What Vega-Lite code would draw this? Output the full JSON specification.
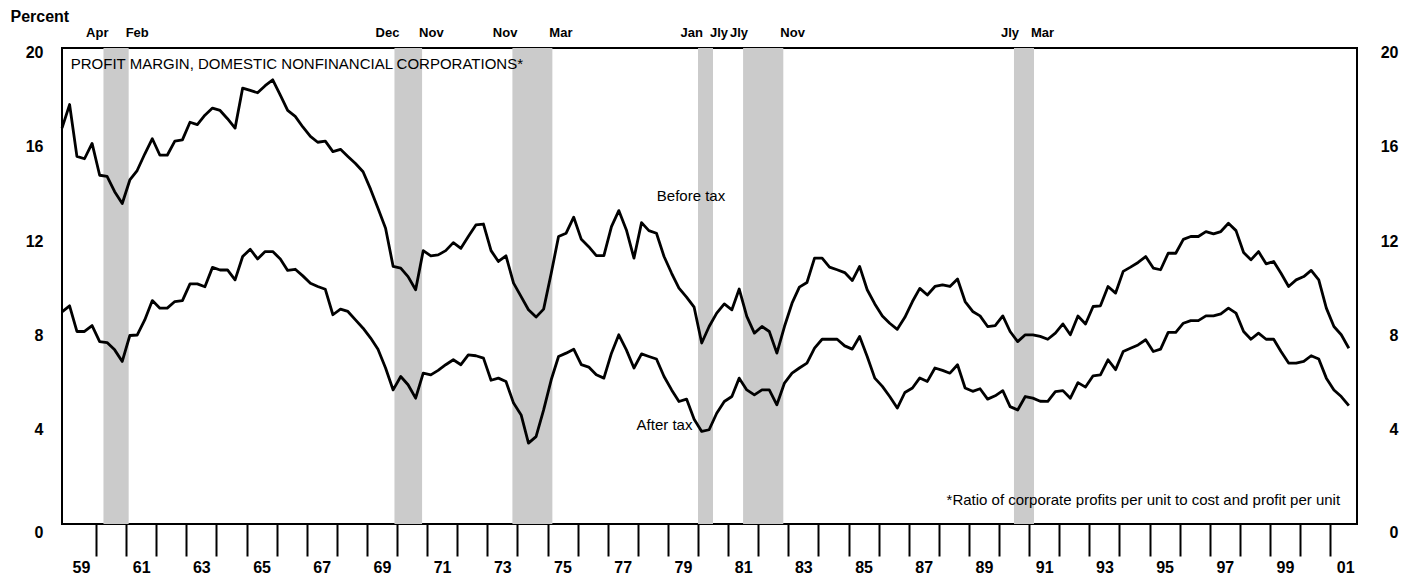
{
  "$schema": "https://vega.github.io/schema/vega-lite/v6.json",
  "width": 1295,
  "height": 476,
  "autosize": {"type": "none"},
  "padding": {"left": 62, "top": 48, "right": 53, "bottom": 57},
  "background": "white",
  "config": {
    "view": {"stroke": "black", "strokeWidth": 2},
    "font": "Liberation Sans",
    "text": {"font": "Liberation Sans", "color": "black"}
  },
  "datasets": {
    "recessions": [
      {"start": "1960-04-01", "end": "1961-02-01", "startLabel": "Apr", "endLabel": "Feb"},
      {"start": "1969-12-01", "end": "1970-11-01", "startLabel": "Dec", "endLabel": "Nov"},
      {"start": "1973-11-01", "end": "1975-03-01", "startLabel": "Nov", "endLabel": "Mar"},
      {"start": "1980-01-01", "end": "1980-07-01", "startLabel": "Jan", "endLabel": "Jly"},
      {"start": "1981-07-01", "end": "1982-11-01", "startLabel": "Jly", "endLabel": "Nov"},
      {"start": "1990-07-01", "end": "1991-03-01", "startLabel": "Jly", "endLabel": "Mar"}
    ],
    "margins": [
      {"q": "1958-11-15", "before": 16.8, "after": 9.0},
      {"q": "1959-02-15", "before": 17.8, "after": 9.26},
      {"q": "1959-05-15", "before": 15.6, "after": 8.17},
      {"q": "1959-08-15", "before": 15.5, "after": 8.17},
      {"q": "1959-11-15", "before": 16.15, "after": 8.42},
      {"q": "1960-02-15", "before": 14.8, "after": 7.74},
      {"q": "1960-05-15", "before": 14.75, "after": 7.7},
      {"q": "1960-08-15", "before": 14.1, "after": 7.39},
      {"q": "1960-11-15", "before": 13.6, "after": 6.9},
      {"q": "1961-02-15", "before": 14.6, "after": 8.0},
      {"q": "1961-05-15", "before": 15.0, "after": 8.02},
      {"q": "1961-08-15", "before": 15.7, "after": 8.66},
      {"q": "1961-11-15", "before": 16.35, "after": 9.48},
      {"q": "1962-02-15", "before": 15.65, "after": 9.16},
      {"q": "1962-05-15", "before": 15.65, "after": 9.16},
      {"q": "1962-08-15", "before": 16.25, "after": 9.44},
      {"q": "1962-11-15", "before": 16.3, "after": 9.48},
      {"q": "1963-02-15", "before": 17.05, "after": 10.19},
      {"q": "1963-05-15", "before": 16.95, "after": 10.19},
      {"q": "1963-08-15", "before": 17.35, "after": 10.07},
      {"q": "1963-11-15", "before": 17.65, "after": 10.89},
      {"q": "1964-02-15", "before": 17.55, "after": 10.78},
      {"q": "1964-05-15", "before": 17.2, "after": 10.78},
      {"q": "1964-08-15", "before": 16.8, "after": 10.36},
      {"q": "1964-11-15", "before": 18.5, "after": 11.35},
      {"q": "1965-02-15", "before": 18.4, "after": 11.66},
      {"q": "1965-05-15", "before": 18.3, "after": 11.25},
      {"q": "1965-08-15", "before": 18.6, "after": 11.56},
      {"q": "1965-11-15", "before": 18.85, "after": 11.56},
      {"q": "1966-02-15", "before": 18.2, "after": 11.25},
      {"q": "1966-05-15", "before": 17.55, "after": 10.76},
      {"q": "1966-08-15", "before": 17.3, "after": 10.81},
      {"q": "1966-11-15", "before": 16.85, "after": 10.53},
      {"q": "1967-02-15", "before": 16.45, "after": 10.22},
      {"q": "1967-05-15", "before": 16.2, "after": 10.08},
      {"q": "1967-08-15", "before": 16.25, "after": 9.96},
      {"q": "1967-11-15", "before": 15.8, "after": 8.88},
      {"q": "1968-02-15", "before": 15.9, "after": 9.12},
      {"q": "1968-05-15", "before": 15.6, "after": 9.02},
      {"q": "1968-08-15", "before": 15.3, "after": 8.66},
      {"q": "1968-11-15", "before": 14.95, "after": 8.31},
      {"q": "1969-02-15", "before": 14.2, "after": 7.89},
      {"q": "1969-05-15", "before": 13.4, "after": 7.42},
      {"q": "1969-08-15", "before": 12.55, "after": 6.62},
      {"q": "1969-11-15", "before": 10.93, "after": 5.69},
      {"q": "1970-02-15", "before": 10.86, "after": 6.26},
      {"q": "1970-05-15", "before": 10.5, "after": 5.91},
      {"q": "1970-08-15", "before": 9.94, "after": 5.34},
      {"q": "1970-11-15", "before": 11.6, "after": 6.4},
      {"q": "1971-02-15", "before": 11.38, "after": 6.33},
      {"q": "1971-05-15", "before": 11.42, "after": 6.52},
      {"q": "1971-08-15", "before": 11.6, "after": 6.76},
      {"q": "1971-11-15", "before": 11.94, "after": 6.97},
      {"q": "1972-02-15", "before": 11.7, "after": 6.76},
      {"q": "1972-05-15", "before": 12.2, "after": 7.18},
      {"q": "1972-08-15", "before": 12.69, "after": 7.14},
      {"q": "1972-11-15", "before": 12.73, "after": 7.04},
      {"q": "1973-02-15", "before": 11.6, "after": 6.1},
      {"q": "1973-05-15", "before": 11.14, "after": 6.19},
      {"q": "1973-08-15", "before": 11.38, "after": 6.05},
      {"q": "1973-11-15", "before": 10.22, "after": 5.13},
      {"q": "1974-02-15", "before": 9.65, "after": 4.63},
      {"q": "1974-05-15", "before": 9.09, "after": 3.43},
      {"q": "1974-08-15", "before": 8.78, "after": 3.71},
      {"q": "1974-11-15", "before": 9.12, "after": 4.84},
      {"q": "1975-02-15", "before": 10.64, "after": 6.12},
      {"q": "1975-05-15", "before": 12.2, "after": 7.11},
      {"q": "1975-08-15", "before": 12.34, "after": 7.25},
      {"q": "1975-11-15", "before": 13.02, "after": 7.42},
      {"q": "1976-02-15", "before": 12.08, "after": 6.76},
      {"q": "1976-05-15", "before": 11.77, "after": 6.66},
      {"q": "1976-08-15", "before": 11.39, "after": 6.33},
      {"q": "1976-11-15", "before": 11.39, "after": 6.19},
      {"q": "1977-02-15", "before": 12.62, "after": 7.25},
      {"q": "1977-05-15", "before": 13.3, "after": 8.03},
      {"q": "1977-08-15", "before": 12.48, "after": 7.39},
      {"q": "1977-11-15", "before": 11.28, "after": 6.62},
      {"q": "1978-02-15", "before": 12.79, "after": 7.22},
      {"q": "1978-05-15", "before": 12.45, "after": 7.11},
      {"q": "1978-08-15", "before": 12.34, "after": 7.0},
      {"q": "1978-11-15", "before": 11.35, "after": 6.26},
      {"q": "1979-02-15", "before": 10.64, "after": 5.69},
      {"q": "1979-05-15", "before": 10.01, "after": 5.2},
      {"q": "1979-08-15", "before": 9.63, "after": 5.3},
      {"q": "1979-11-15", "before": 9.2, "after": 4.45},
      {"q": "1980-02-15", "before": 7.68, "after": 3.93},
      {"q": "1980-05-15", "before": 8.38, "after": 4.0},
      {"q": "1980-08-15", "before": 8.95, "after": 4.7},
      {"q": "1980-11-15", "before": 9.34, "after": 5.2},
      {"q": "1981-02-15", "before": 9.09, "after": 5.41},
      {"q": "1981-05-15", "before": 9.97, "after": 6.19},
      {"q": "1981-08-15", "before": 8.81, "after": 5.69},
      {"q": "1981-11-15", "before": 8.1, "after": 5.48},
      {"q": "1982-02-15", "before": 8.38, "after": 5.69},
      {"q": "1982-05-15", "before": 8.17, "after": 5.69},
      {"q": "1982-08-15", "before": 7.25, "after": 5.06},
      {"q": "1982-11-15", "before": 8.38, "after": 5.98},
      {"q": "1983-02-15", "before": 9.37, "after": 6.4},
      {"q": "1983-05-15", "before": 10.05, "after": 6.62},
      {"q": "1983-08-15", "before": 10.25, "after": 6.83},
      {"q": "1983-11-15", "before": 11.28, "after": 7.46},
      {"q": "1984-02-15", "before": 11.28, "after": 7.84},
      {"q": "1984-05-15", "before": 10.9, "after": 7.84},
      {"q": "1984-08-15", "before": 10.79, "after": 7.84},
      {"q": "1984-11-15", "before": 10.67, "after": 7.56},
      {"q": "1985-02-15", "before": 10.33, "after": 7.42},
      {"q": "1985-05-15", "before": 10.93, "after": 7.96},
      {"q": "1985-08-15", "before": 9.94, "after": 7.11},
      {"q": "1985-11-15", "before": 9.34, "after": 6.19},
      {"q": "1986-02-15", "before": 8.83, "after": 5.84},
      {"q": "1986-05-15", "before": 8.52, "after": 5.41},
      {"q": "1986-08-15", "before": 8.26, "after": 4.92},
      {"q": "1986-11-15", "before": 8.77, "after": 5.58},
      {"q": "1987-02-15", "before": 9.44, "after": 5.77},
      {"q": "1987-05-15", "before": 10.0, "after": 6.2},
      {"q": "1987-08-15", "before": 9.72, "after": 6.05},
      {"q": "1987-11-15", "before": 10.08, "after": 6.62},
      {"q": "1988-02-15", "before": 10.15, "after": 6.52},
      {"q": "1988-05-15", "before": 10.08, "after": 6.4},
      {"q": "1988-08-15", "before": 10.4, "after": 6.76},
      {"q": "1988-11-15", "before": 9.44, "after": 5.77},
      {"q": "1989-02-15", "before": 9.02, "after": 5.63},
      {"q": "1989-05-15", "before": 8.83, "after": 5.74},
      {"q": "1989-08-15", "before": 8.38, "after": 5.3},
      {"q": "1989-11-15", "before": 8.42, "after": 5.44},
      {"q": "1990-02-15", "before": 8.83, "after": 5.66},
      {"q": "1990-05-15", "before": 8.17, "after": 4.98},
      {"q": "1990-08-15", "before": 7.74, "after": 4.84},
      {"q": "1990-11-15", "before": 8.03, "after": 5.41},
      {"q": "1991-02-15", "before": 8.03, "after": 5.34},
      {"q": "1991-05-15", "before": 7.96, "after": 5.21},
      {"q": "1991-08-15", "before": 7.84, "after": 5.2},
      {"q": "1991-11-15", "before": 8.1, "after": 5.62},
      {"q": "1992-02-15", "before": 8.49, "after": 5.66},
      {"q": "1992-05-15", "before": 8.03, "after": 5.34},
      {"q": "1992-08-15", "before": 8.83, "after": 6.0},
      {"q": "1992-11-15", "before": 8.49, "after": 5.81},
      {"q": "1993-02-15", "before": 9.23, "after": 6.29},
      {"q": "1993-05-15", "before": 9.26, "after": 6.33},
      {"q": "1993-08-15", "before": 10.08, "after": 6.97},
      {"q": "1993-11-15", "before": 9.8, "after": 6.55},
      {"q": "1994-02-15", "before": 10.72, "after": 7.32},
      {"q": "1994-05-15", "before": 10.9, "after": 7.46},
      {"q": "1994-08-15", "before": 11.1, "after": 7.6},
      {"q": "1994-11-15", "before": 11.35, "after": 7.82},
      {"q": "1995-02-15", "before": 10.86, "after": 7.32},
      {"q": "1995-05-15", "before": 10.79, "after": 7.42},
      {"q": "1995-08-15", "before": 11.49, "after": 8.13},
      {"q": "1995-11-15", "before": 11.49, "after": 8.13},
      {"q": "1996-02-15", "before": 12.08, "after": 8.52},
      {"q": "1996-05-15", "before": 12.2, "after": 8.63},
      {"q": "1996-08-15", "before": 12.2, "after": 8.63},
      {"q": "1996-11-15", "before": 12.41, "after": 8.83},
      {"q": "1997-02-15", "before": 12.31, "after": 8.83},
      {"q": "1997-05-15", "before": 12.41, "after": 8.92},
      {"q": "1997-08-15", "before": 12.76, "after": 9.16},
      {"q": "1997-11-15", "before": 12.45, "after": 8.95},
      {"q": "1998-02-15", "before": 11.52, "after": 8.17},
      {"q": "1998-05-15", "before": 11.21, "after": 7.84},
      {"q": "1998-08-15", "before": 11.56, "after": 8.1},
      {"q": "1998-11-15", "before": 11.04, "after": 7.84},
      {"q": "1999-02-15", "before": 11.14, "after": 7.84},
      {"q": "1999-05-15", "before": 10.64, "after": 7.32},
      {"q": "1999-08-15", "before": 10.08, "after": 6.83},
      {"q": "1999-11-15", "before": 10.36, "after": 6.83},
      {"q": "2000-02-15", "before": 10.5, "after": 6.9},
      {"q": "2000-05-15", "before": 10.76, "after": 7.14},
      {"q": "2000-08-15", "before": 10.36, "after": 7.0},
      {"q": "2000-11-15", "before": 9.16, "after": 6.19},
      {"q": "2001-02-15", "before": 8.38, "after": 5.69},
      {"q": "2001-05-15", "before": 8.03, "after": 5.41},
      {"q": "2001-08-15", "before": 7.46, "after": 5.02}
    ]
  },
  "layer": [
    {
      "data": {"name": "recessions"},
      "mark": {"type": "rect", "fill": "#cbcbcb"},
      "encoding": {
        "x": {
          "field": "start", "type": "temporal",
          "scale": {"domain": [{"year": 1958, "month": 11, "date": 15}, {"year": 2001, "month": 11, "date": 22}], "nice": false},
          "axis": {
            "orient": "bottom", "title": null, "grid": false, "domain": false,
            "tickCount": {"interval": "year", "step": 1},
            "labelExpr": "year(datum.value) % 2 == 1 ? timeFormat(datum.value, '%y') : ''",
            "labelOffset": 15, "labelFlush": false, "labelOverlap": false, "labelBound": false,
            "tickSize": 32, "tickWidth": 2, "tickColor": "black",
            "tickOpacity": {"condition": {"test": "year(datum.value) == 1959", "value": 0}, "value": 1},
            "labelFont": "Liberation Sans", "labelFontSize": 16, "labelFontWeight": "bold",
            "labelColor": "black", "labelPadding": 3
          }
        },
        "x2": {"field": "end"},
        "y": {
          "datum": 0, "type": "quantitative",
          "scale": {"domain": [0, 20.2], "nice": false, "zero": true},
          "axis": {
            "orient": "right", "title": null, "grid": false, "domain": false, "ticks": false,
            "values": [0, 4, 8, 12, 16, 20],
            "labelFont": "Liberation Sans", "labelFontSize": 16, "labelFontWeight": "bold",
            "labelColor": "black", "labelAlign": "right", "labelPadding": 41,
            "labelBaseline": {"condition": {"test": "datum.value == 0", "value": "top"}, "value": "middle"}
          }
        },
        "y2": {"datum": 20.2}
      }
    },
    {
      "data": {"name": "recessions"},
      "mark": {"type": "text", "align": "right", "baseline": "alphabetic", "dx": 5, "dy": -11, "fontSize": 13, "fontWeight": "bold"},
      "encoding": {
        "x": {"field": "start", "type": "temporal", "scale": {"domain": [{"year": 1958, "month": 11, "date": 15}, {"year": 2001, "month": 11, "date": 22}], "nice": false}},
        "y": {"datum": 20.2, "type": "quantitative", "scale": {"domain": [0, 20.2], "nice": false}, "axis": null},
        "text": {"field": "startLabel"}
      }
    },
    {
      "data": {"name": "recessions"},
      "mark": {"type": "text", "align": "left", "baseline": "alphabetic", "dx": -3, "dy": -11, "fontSize": 13, "fontWeight": "bold"},
      "encoding": {
        "x": {"field": "end", "type": "temporal", "scale": {"domain": [{"year": 1958, "month": 11, "date": 15}, {"year": 2001, "month": 11, "date": 22}], "nice": false}},
        "y": {"datum": 20.2, "type": "quantitative", "scale": {"domain": [0, 20.2], "nice": false}, "axis": null},
        "text": {"field": "endLabel"}
      }
    },
    {
      "data": {"name": "margins"},
      "transform": [{"fold": ["before", "after"], "as": ["series", "value"]}],
      "mark": {"type": "line", "color": "black", "strokeWidth": 2.8, "strokeJoin": "round"},
      "encoding": {
        "x": {"field": "q", "type": "temporal", "scale": {"domain": [{"year": 1958, "month": 11, "date": 15}, {"year": 2001, "month": 11, "date": 22}], "nice": false}},
        "y": {
          "field": "value", "type": "quantitative",
          "scale": {"domain": [0, 20.2], "nice": false},
          "axis": {
            "orient": "left", "grid": false, "domain": false, "ticks": false,
            "values": [0, 4, 8, 12, 16, 20],
            "labelFont": "Liberation Sans", "labelFontSize": 16, "labelFontWeight": "bold",
            "labelColor": "black", "labelPadding": 19,
            "labelBaseline": {"condition": {"test": "datum.value == 0", "value": "top"}, "value": "middle"},
            "title": "Percent", "titleAngle": 0, "titleX": -52, "titleY": -27,
            "titleAlign": "left", "titleBaseline": "alphabetic",
            "titleFont": "Liberation Sans", "titleFontSize": 16, "titleFontWeight": "bold", "titleColor": "black"
          }
        },
        "detail": {"field": "series"}
      }
    },
    {
      "data": {"values": [{}]},
      "mark": {"type": "text", "text": "PROFIT MARGIN, DOMESTIC NONFINANCIAL CORPORATIONS*", "align": "left", "baseline": "middle", "fontSize": 15},
      "encoding": {
        "x": {"datum": {"year": 1959, "month": 3, "date": 1}, "type": "temporal", "scale": {"domain": [{"year": 1958, "month": 11, "date": 15}, {"year": 2001, "month": 11, "date": 22}], "nice": false}},
        "y": {"datum": 19.52, "type": "quantitative", "scale": {"domain": [0, 20.2], "nice": false}, "axis": null}
      }
    },
    {
      "data": {"values": [{}]},
      "mark": {"type": "text", "text": "Before tax", "align": "center", "baseline": "middle", "fontSize": 15},
      "encoding": {
        "x": {"datum": {"year": 1979, "month": 10, "date": 8}, "type": "temporal", "scale": {"domain": [{"year": 1958, "month": 11, "date": 15}, {"year": 2001, "month": 11, "date": 22}], "nice": false}},
        "y": {"datum": 13.92, "type": "quantitative", "scale": {"domain": [0, 20.2], "nice": false}, "axis": null}
      }
    },
    {
      "data": {"values": [{}]},
      "mark": {"type": "text", "text": "After tax", "align": "center", "baseline": "middle", "fontSize": 15},
      "encoding": {
        "x": {"datum": {"year": 1978, "month": 11, "date": 20}, "type": "temporal", "scale": {"domain": [{"year": 1958, "month": 11, "date": 15}, {"year": 2001, "month": 11, "date": 22}], "nice": false}},
        "y": {"datum": 4.21, "type": "quantitative", "scale": {"domain": [0, 20.2], "nice": false}, "axis": null}
      }
    },
    {
      "data": {"values": [{}]},
      "mark": {"type": "text", "text": "*Ratio of corporate profits per unit to cost and profit per unit", "align": "right", "baseline": "middle", "fontSize": 15},
      "encoding": {
        "x": {"datum": {"year": 2001, "month": 5, "date": 1}, "type": "temporal", "scale": {"domain": [{"year": 1958, "month": 11, "date": 15}, {"year": 2001, "month": 11, "date": 22}], "nice": false}},
        "y": {"datum": 1.03, "type": "quantitative", "scale": {"domain": [0, 20.2], "nice": false}, "axis": null}
      }
    }
  ],
  "resolve": {"scale": {"y": "shared", "x": "shared"}, "axis": {"y": "independent"}}
}
